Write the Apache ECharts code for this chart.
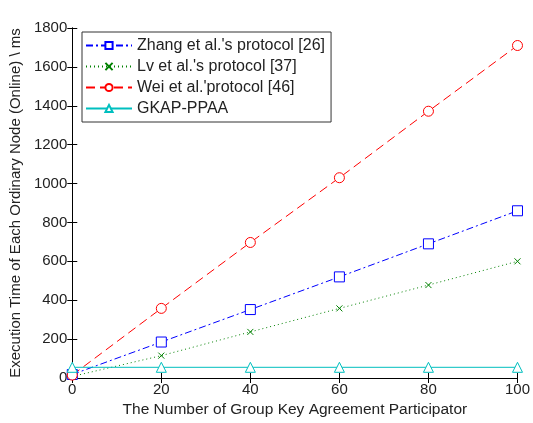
<!DOCTYPE html>
<html><head><meta charset="utf-8">
<script src="https://cdn.jsdelivr.net/npm/echarts@6/dist/echarts.min.js"></script>
<style>html,body{margin:0;padding:0;background:#fff}#c{width:533px;height:423px}</style>
</head><body><div id="c"></div>
<script>
const participants = [0, 20, 40, 60, 80, 100];
const zhang = [18, 185, 352, 520, 690, 860];
const lv = [8, 115, 237, 358, 478, 600];
const wei = [15, 358, 697, 1030, 1372, 1710];
const gkap = [55, 55, 55, 55, 55, 55];
const names = ["Zhang et al.'s protocol [26]", "Lv et al.'s protocol [37]", "Wei et al.'protocol [46]", "GKAP-PPAA"];

const font = 'Liberation Sans, Arial, sans-serif';
const pair = a => participants.map((x, i) => [x, a[i]]);
const chart = echarts.init(document.getElementById('c'), null, {renderer: 'canvas'});
const axisCommon = {
  axisLine: {show: true, lineStyle: {color: '#000', width: 1}},
  axisTick: {show: true, inside: true, length: 5, lineStyle: {color: '#000'}},
  splitLine: {show: false}
};
chart.setOption({
  animation: false,
  backgroundColor: '#fff',
  grid: {left: 72, right: 14, top: 28, bottom: 44},
  legend: {
    orient: 'vertical', left: 82, top: 32,
    backgroundColor: '#fff', borderColor: '#333', borderWidth: 1,
    padding: [5, 6, 5, 3], itemGap: 4, itemWidth: 46, itemHeight: 9,
    textStyle: {fontFamily: font, fontSize: 16, color: '#222', lineHeight: 17},
    data: names
  },
  xAxis: [
    Object.assign({type: 'value', min: 0, max: 100, interval: 20, position: 'bottom',
      name: 'The Number of Group Key Agreement Participator', nameLocation: 'middle', nameGap: 24,
      nameTextStyle: {fontFamily: font, fontSize: 15.5, color: '#222'},
      axisLabel: {fontFamily: font, fontSize: 15, color: '#222', margin: 4}}, axisCommon),
    Object.assign({type: 'value', min: 0, max: 100, interval: 20, position: 'top',
      axisLabel: {show: false}}, axisCommon)
  ],
  yAxis: [
    Object.assign({type: 'value', min: 0, max: 1800, interval: 200, position: 'left',
      name: 'Execution Time of Each Ordinary Node (Online) \\ ms', nameLocation: 'middle', nameGap: 47,
      nameTextStyle: {fontFamily: font, fontSize: 15, color: '#222'},
      axisLabel: {fontFamily: font, fontSize: 15, color: '#222', margin: 5, formatter: v => String(v)}}, axisCommon),
    Object.assign({type: 'value', min: 0, max: 1800, interval: 200, position: 'right',
      axisLabel: {show: false}}, axisCommon)
  ],
  series: [
    {name: names[0], type: 'line', data: pair(zhang), symbol: 'rect', symbolSize: 10,
      lineStyle: {color: '#0000ff', width: 1, type: [7, 3, 2, 3]},
      itemStyle: {color: '#fff', borderColor: '#0000ff', borderWidth: 1}, z: 3},
    {name: names[1], type: 'line', data: pair(lv), symbol: 'path://M0,0L10,10M10,0L0,10', symbolSize: 6,
      lineStyle: {color: '#008000', width: 1, type: [1, 3]},
      itemStyle: {color: 'none', borderColor: '#008000', borderWidth: 1}, z: 3},
    {name: names[2], type: 'line', data: pair(wei), symbol: 'circle', symbolSize: 10,
      lineStyle: {color: '#ff0000', width: 1, type: [9, 5]},
      itemStyle: {color: '#fff', borderColor: '#ff0000', borderWidth: 1}, z: 3},
    {name: names[3], type: 'line', data: pair(gkap), symbol: 'triangle', symbolSize: 10,
      lineStyle: {color: '#00bfbf', width: 1, type: 'solid'},
      itemStyle: {color: '#fff', borderColor: '#00bfbf', borderWidth: 1}, z: 3}
  ]
});
</script></body></html>
